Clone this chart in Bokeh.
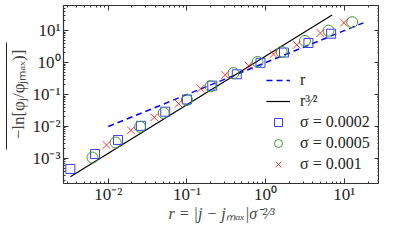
from bokeh.plotting import figure
from bokeh.models import (LogAxis, LinearAxis, FixedTicker, CustomJSTickFormatter, Legend, LegendItem,
                          CustomLabelingPolicy, Range1d, LinearScale)
from bokeh.embed import file_html
from bokeh.resources import INLINE

# data
r_sq = [0.0033, 0.0068, 0.0133, 0.026, 0.053, 0.10, 0.21, 0.43, 0.86, 1.71, 3.5, 6.8]
v_sq = [4.7e-4, 1.38e-3, 3.8e-3, 1.05e-2, 2.9e-2, 7.0e-2, 0.19, 0.43, 0.98, 2.06, 4.1, 8.0]

r_ci = [0.0063, 0.0124, 0.0254, 0.0507, 0.10, 0.20, 0.39, 0.79, 1.6, 3.16, 6.3, 12.6]
v_ci = [1.07e-3, 3.16e-3, 9.8e-3, 2.65e-2, 6.8e-2, 0.18, 0.47, 1.05, 2.16, 4.75, 10.0, 18.4]

r_x = [0.0095, 0.0194, 0.0384, 0.0787, 0.15, 0.307, 0.61, 1.26, 2.49, 4.97, 9.9]
v_x = [2.65e-3, 7.6e-3, 1.93e-2, 5.2e-2, 0.154, 0.41, 0.8, 1.84, 3.6, 8.4, 17.7]

r_lin = [0.01, 17.5]
v_lin = [0.01, 17.5]
r_pow = [0.0033, 7.0]
v_pow = [2.7e-4, 31.0]

x_major = [1e-2, 1e-1, 1e0, 1e1]
y_major = [1e-3, 1e-2, 1e-1, 1e0, 1e1]

labels = ["r", "r\u00b3\u2044\u00b2", "\u03c3 = 0.0002", "\u03c3 = 0.0005", "\u03c3 = 0.001"]
x_label = "r = |j \u2212 j\u2098\u2090\u2093|\u03c3\u207b\u00b2\u2044\u00b3"
y_label = "\u2212ln[\u03c6\u2c7c/\u03c6\u2c7c\u2098\u2090\u2093)]"

FONT = "Liberation Serif"

def minors(lo, hi):
    out = []
    for e in range(lo, hi + 1):
        for k in range(2, 10):
            out.append(k * 10.0 ** e)
    return out

x_minor = minors(-3, 1)
y_minor = minors(-4, 1)

p = figure(width=379, height=224, x_axis_type="log", y_axis_type="log",
           x_range=(0.0027, 28), y_range=(1.65e-4, 61),
           output_backend="svg", toolbar_location=None,
           min_border_left=63, min_border_right=0, min_border_top=5, min_border_bottom=0)
p.grid.visible = False
p.outline_line_color = "#333333"
p.outline_line_width = 1.2
p.background_fill_color = "white"
p.border_fill_color = "white"

bottom = p.below[0]
left = p.left[0]

fmt = CustomJSTickFormatter(code="""
const e = Math.round(Math.log10(tick));
const m = {'-':'\u207b','0':'\u2070','1':'\u00b9','2':'\u00b2','3':'\u00b3','4':'\u2074'};
return '10' + String(e).split('').map(c => m[c]).join('');
""")

def style_axis(ax, major, minor, show):
    ax.ticker = FixedTicker(ticks=major, minor_ticks=minor)
    ax.formatter = fmt
    ax.major_tick_in = 5
    ax.major_tick_out = 0
    ax.minor_tick_in = 2
    ax.minor_tick_out = 0
    ax.axis_line_color = None
    ax.major_tick_line_color = "#333333"
    ax.minor_tick_line_color = "#333333"
    ax.major_label_text_font = FONT
    ax.major_label_text_font_size = "17px"
    ax.major_label_text_color = "#222222"
    if not show:
        ax.major_label_policy = CustomLabelingPolicy(code="return new Set()")
        ax.major_label_text_font_size = "0px"
        ax.major_label_standoff = 0

style_axis(bottom, x_major, x_minor, True)
style_axis(left, y_major, y_minor, True)
bottom.major_label_standoff = 1
left.major_label_standoff = 3

top = LogAxis()
style_axis(top, x_major, x_minor, False)
p.add_layout(top, "above")
right = LogAxis()
style_axis(right, y_major, y_minor, False)
p.add_layout(right, "right")

bottom.axis_label = x_label
bottom.axis_label_text_font = FONT
bottom.axis_label_text_font_style = "italic"
bottom.axis_label_text_font_size = "16px"
bottom.axis_label_standoff = -2
left.axis_label = y_label
left.axis_label_text_font = FONT
left.axis_label_text_font_style = "normal"
left.axis_label_text_font_size = "17px"
left.axis_label_standoff = 1

# overline of the y label: an outer, tickless axis whose line spans the label
p.extra_y_ranges = {"ol": Range1d(0, 1)}
p.extra_y_scales = {"ol": LinearScale()}
ol = LinearAxis(y_range_name="ol", ticker=FixedTicker(ticks=[]), bounds=(0.19, 0.79),
                axis_line_color="#222222", axis_line_width=1,
                major_tick_line_color=None, minor_tick_line_color=None,
                major_label_text_font_size="0px", major_label_standoff=0)
p.add_layout(ol, "left")

l1 = p.line(r_lin, v_lin, line_color="blue", line_width=1.5, line_dash="6 4")
l2 = p.line(r_pow, v_pow, line_color="black", line_width=1.2)
s1 = p.scatter(r_sq, v_sq, marker="square", size=9, fill_color=None, line_color="#3b3bff", line_width=1)
s2 = p.scatter(r_ci, v_ci, marker="circle", size=11, fill_color=None, line_color="#3a9a3a", line_width=1)
s3 = p.scatter(r_x, v_x, marker="x", size=11, fill_color="red", line_color="red", line_alpha=0.8, line_width=1)

legend = Legend(items=[LegendItem(label=labels[i], renderers=[rr]) for i, rr in enumerate([l1, l2, s1, s2, s3])],
                location=(203, 9), border_line_color=None, background_fill_alpha=0,
                padding=0, margin=0, spacing=1, glyph_width=24, glyph_height=20, label_height=20,
                label_standoff=10, label_text_font=FONT, label_text_font_size="16px",
                label_text_color="#222222")
p.add_layout(legend, "center")

open("out.html", "w").write(file_html(p, INLINE))
